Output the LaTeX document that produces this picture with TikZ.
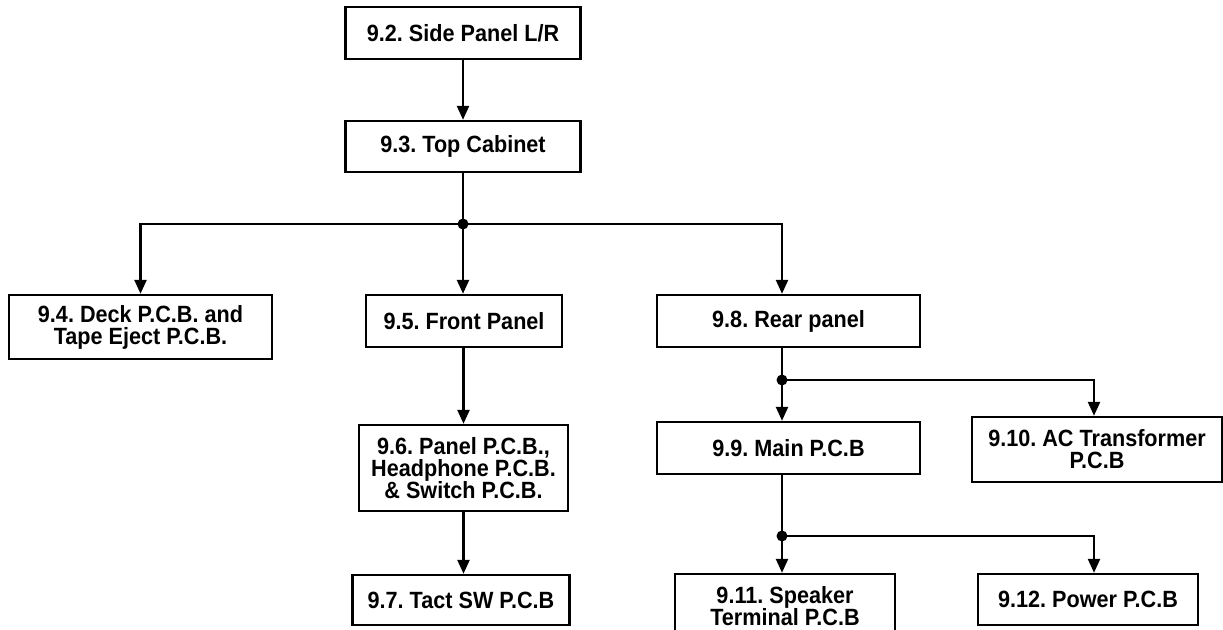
\documentclass[tikz,border=0pt]{standalone}
\usepackage{fontspec}
\setmainfont{Liberation Sans}[FakeStretch=0.92]
\usetikzlibrary{arrows.meta,positioning}

\begin{document}
\frenchspacing
\begin{tikzpicture}[
  x=1pt,y=-1pt,
  >={Triangle[length=14pt,width=12pt]},
  line width=2.4pt,
  every node/.style={font=\bfseries\fontsize{23.5}{22}\selectfont},
  box/.style={draw,line width=2.4pt,align=center,inner sep=0pt},
  jdot/.style={circle,fill,inner sep=0pt,minimum size=11pt}
]
\useasboundingbox (0,0) rectangle (1223,629);

% ---- top chain ----
\node[box,minimum width=235pt,minimum height=52pt] (side) at (463,33)    {9.2. Side Panel L/R};
\node[box,minimum width=235pt,minimum height=51pt] (top)  at (463,146.5) {9.3. Top Cabinet};

% ---- second row ----
\node[box,minimum width=263pt,minimum height=64pt] (deck)  at (140.5,327) {9.4. Deck P.C.B. and\\Tape Eject P.C.B.};
\node[box,minimum width=196pt,minimum height=52pt] (front) at (464,321)   {9.5. Front Panel};
\node[box,minimum width=263pt,minimum height=52pt] (rear)  at (788.5,321) {9.8. Rear panel};

% ---- front panel column ----
\node[box,minimum width=209pt,minimum height=86pt] (panel) at (463.5,468) {9.6. Panel P.C.B.,\\Headphone P.C.B.\\\& Switch P.C.B.};
\node[box,minimum width=217pt,minimum height=50pt] (tact)  at (461,600)   {9.7. Tact SW P.C.B};

% ---- rear panel column ----
\node[box,minimum width=263pt,minimum height=52pt] (main)    at (788.5,448)  {9.9. Main P.C.B};
\node[box,minimum width=250pt,minimum height=65pt] (ac)      at (1097,449.5) {9.10. AC Transformer\\P.C.B};
\node[box,minimum width=220pt,minimum height=64pt] (speaker) at (785,606)    {9.11. Speaker\\Terminal P.C.B};
\node[box,minimum width=220pt,minimum height=51pt] (power)   at (1088,599.5) {9.12. Power P.C.B};

% ---- junctions ----
\node[jdot] (j1) at (463,224) {};
\node[jdot] (j2) at (782,380) {};
\node[jdot] (j3) at (782,536) {};

% arrows
\draw[->] (side) -- (top);
\draw (top.south) -- (j1.center);
\draw[->] (j1.center) -| (deck.north);
\draw[->] (j1.center) -- (j1.center |- front.north);
\draw[->] (j1.center) -| ([xshift=-6.5pt]rear.north);

\draw[->] (panel.north |- front.south) -- (panel.north);
\draw[->] (panel.south) -- (panel.south |- tact.north);

\draw ([xshift=-6.5pt]rear.south) -- (j2.center);
\draw[->] (j2.center) -- ([xshift=-6.5pt]main.north);
\draw[->] (j2.center) -| ([xshift=-3pt]ac.north);

\draw ([xshift=-6.5pt]main.south) -- (j3.center);
\draw[->] (j3.center) -- ([xshift=-3pt]speaker.north);
\draw[->] (j3.center) -| ([xshift=6pt]power.north);

\end{tikzpicture}
\end{document}
